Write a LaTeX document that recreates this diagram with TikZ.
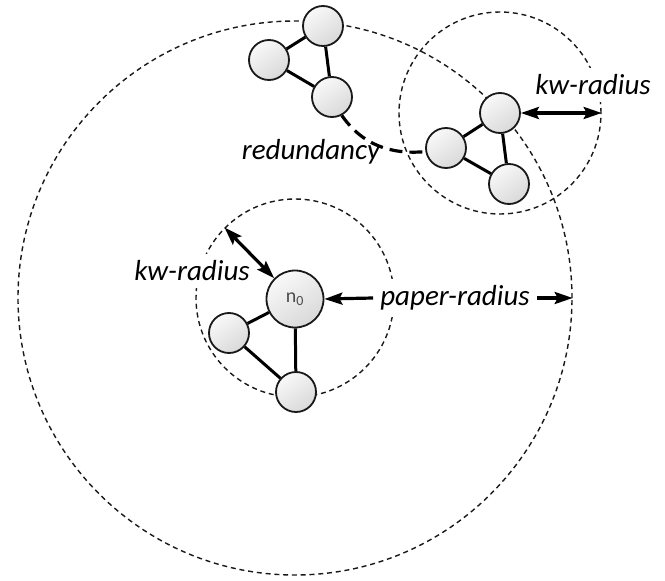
\documentclass[tikz,border=0pt]{standalone}
\usepackage{fontspec}
\setmainfont{Carlito}
\usetikzlibrary{arrows.meta}
\tikzset{
  dcirc/.style={circle, draw=black!90, line width=1.4pt, dash pattern=on 5pt off 3.8pt, inner sep=0pt},
  vtx/.style={circle, draw=black!90, line width=1.8pt, minimum size=40pt, inner sep=0pt,
     top color=gray!5, bottom color=gray!30, shading angle=35},
  bigvtx/.style={vtx, minimum size=57pt},
  link/.style={line width=3pt, black},
  lbl/.style={fill=white, inner sep=7pt, font=\fontsize{29}{34}\selectfont\itshape},
  arr/.style={line width=3.2pt, -{Stealth[length=18pt,width=12pt,inset=3pt]}},
  darr/.style={line width=3.2pt, {Stealth[length=18pt,width=12pt,inset=3pt]}-{Stealth[length=18pt,width=12pt,inset=3pt]}},
  redund/.style={line width=3.2pt, dash pattern=on 13pt off 7pt}
}
\begin{document}
\begin{tikzpicture}[x=1pt,y=-1pt]
\useasboundingbox (0,0) rectangle (665,581);
% dashed circles
\node[dcirc, minimum size=554pt] (bigc) at (295,298) {};
\node[dcirc, minimum size=198pt] (kwa) at (295,298) {};
\node[dcirc, minimum size=202pt] (kwb) at (500,113) {};
% labels
\node[lbl] (lkwa) at (192,271) {kw-radius};
\node[lbl] (lkwb) at (593,85) {kw-radius};
\node[lbl] (lpaper) at (455,298) {paper-radius};
\node[font=\fontsize{29}{34}\selectfont\itshape, inner sep=2pt] (lred) at (311,152) {redundancy};
% top cluster
\node[vtx] (ta) at (323,26) {};
\node[vtx] (tb) at (269,60) {};
\node[vtx] (tc) at (332,97) {};
% right cluster
\node[vtx] (ra) at (500,113) {};
\node[vtx] (rb) at (446,148) {};
\node[vtx] (rc) at (509,184) {};
% center cluster
\node[bigvtx, text=black!70, font=\fontsize{20}{24}\selectfont] (n0) at (295,299) {n\textsubscript{0}};
\node[vtx] (cb) at (229,333) {};
\node[vtx] (cc) at (296,392) {};
% edges
\draw[link] (ta) -- (tb);
\draw[link] (ta) -- (tc);
\draw[link] (tb) -- (tc);
\draw[link] (ra) -- (rb);
\draw[link] (ra) -- (rc);
\draw[link] (rb) -- (rc);
\draw[link] (n0) -- (cb);
\draw[link] (n0) -- (cc);
\draw[link] (cb) -- (cc);
% redundancy
\draw[redund] (tc.-62) to[out=-55,in=185] (rb.190);
% arrows
\draw[darr] (n0.135) -- (kwa.135);
\draw[darr] (ra.east) -- (kwb.east);
\draw[arr] (lpaper.west) -- (n0.east);
\draw[arr] (lpaper.east) -- (bigc.east);
\end{tikzpicture}
\end{document}
